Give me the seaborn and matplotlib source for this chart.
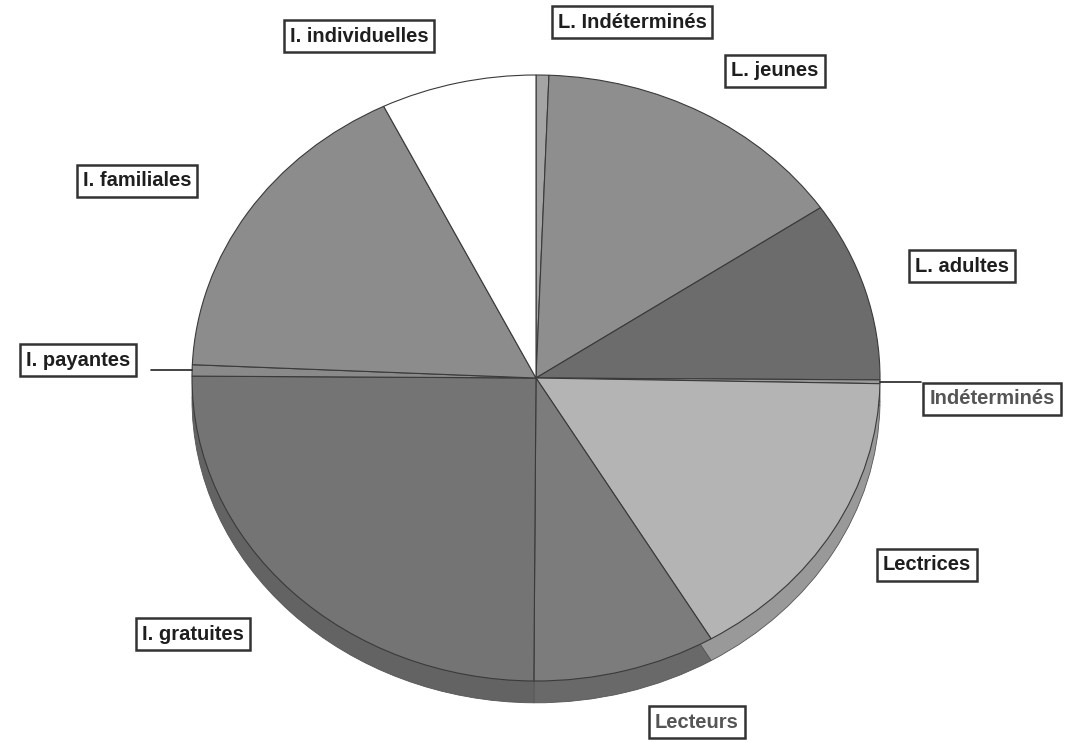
import matplotlib
matplotlib.use('Agg')

import matplotlib.pyplot as plt
import seaborn as sns
import numpy as np

# parts (en % du disque), dans le sens des aiguilles depuis midi
categories = ["L. Indéterminés", "L. jeunes", "L. adultes", "Indéterminés",
              "Lectrices", "Lecteurs", "I. gratuites", "I. payantes",
              "I. familiales", "I. individuelles"]
valeurs = [0.6, 14.9, 9.6, 0.2, 16.2, 8.6, 25.0, 0.6, 17.0, 7.3]
gris = ["#a4a4a4", "#8e8e8e", "#6c6c6c", "#9a9a9a", "#b4b4b4",
        "#7c7c7c", "#747474", "#8a8a8a", "#8c8c8c", "#ffffff"]

# position des étiquettes (pixels de l'image)
pos_etiquettes = {
    "L. Indéterminés": (632, 22), "L. jeunes": (775, 71),
    "L. adultes": (962, 266), "Indéterminés": (992, 399),
    "Lectrices": (927, 565), "Lecteurs": (697, 722),
    "I. gratuites": (193, 634), "I. payantes": (78, 360),
    "I. familiales": (137, 181), "I. individuelles": (359, 36),
}
avec_trait = ["I. payantes", "Indéterminés"]

sns.set_theme(style="white")
plt.rcParams['font.family'] = ['Liberation Sans', 'DejaVu Sans']

CX, CY, RX, RY = 536, 378, 344, 303


def px(x, y):
    return (x - CX) / RX, (CY - y) / RY


fig = plt.figure(figsize=(10.72, 7.42), dpi=100)
ax = fig.add_axes([0, 0, 1, 1])

# épaisseur "3D" : disque décalé et assombri
sombres = [tuple(np.array(matplotlib.colors.to_rgb(c)) * 0.85) for c in gris]
ax.pie(valeurs, colors=sombres, startangle=90, counterclock=False,
       center=(0, -0.072), radius=1.0,
       wedgeprops=dict(edgecolor="#555555", linewidth=0.6))

wedges, _ = ax.pie(valeurs, colors=gris, startangle=90, counterclock=False,
                   center=(0, 0), radius=1.0,
                   wedgeprops=dict(edgecolor="#3a3a3a", linewidth=0.8))

ax.set_aspect('auto')
ax.set_xlim(px(0, 0)[0], px(1072, 0)[0])
ax.set_ylim(px(0, 742)[1], px(0, 0)[1])
ax.axis('off')

for w, nom in zip(wedges, categories):
    tx, ty = px(*pos_etiquettes[nom])
    couleur = "#555555" if nom in ("Indéterminés", "Lecteurs") else "#1e1e1e"
    ax.text(tx, ty, nom, ha='center', va='center', fontsize=14.5,
            fontweight='bold', color=couleur,
            bbox=dict(boxstyle='square,pad=0.3', fc='white', ec='#333333', lw=1.8))
    if nom in avec_trait:
        a = np.deg2rad((w.theta1 + w.theta2) / 2)
        bord = (np.cos(a), np.sin(a))
        cote = 1 if bord[0] > 0 else -1
        ax.plot([bord[0], bord[0] + cote * 0.12], [bord[1], bord[1]],
                color="#222222", lw=1.2)

plt.savefig("out.png", dpi=100)
plt.close()
